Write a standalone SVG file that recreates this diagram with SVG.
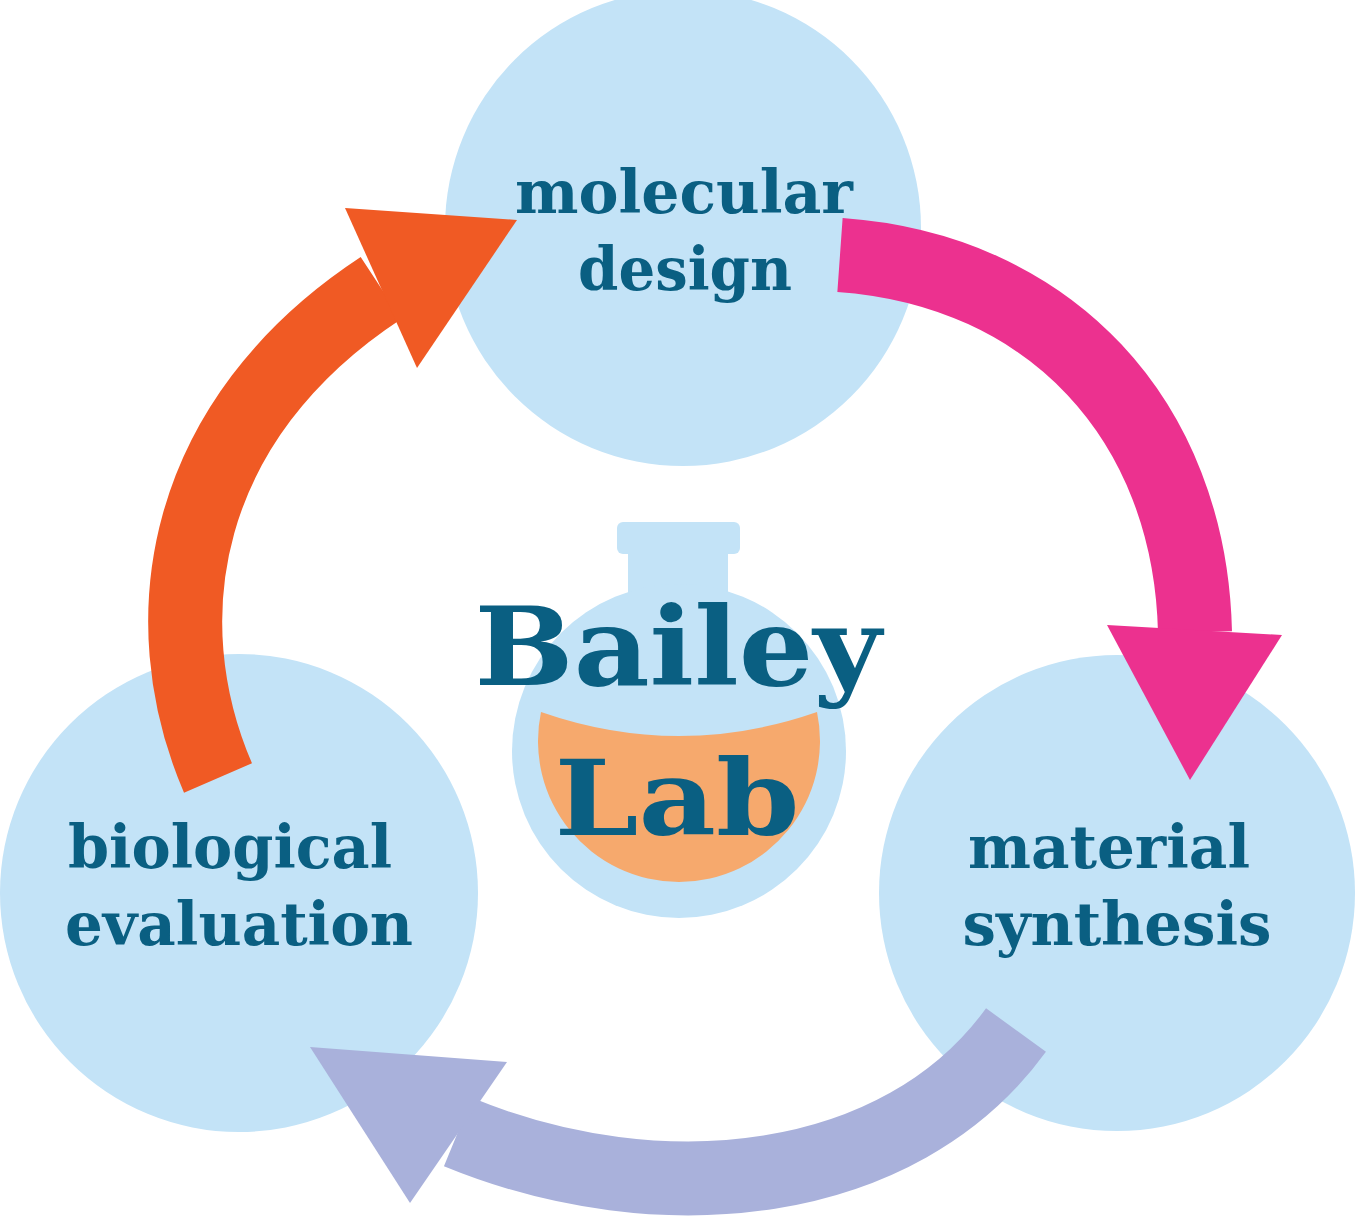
<svg xmlns="http://www.w3.org/2000/svg" width="1356" height="1223" viewBox="0 0 1356 1223">
<style>
.c{fill:#c3e3f7}
.t{font-family:"DejaVu Serif","Liberation Serif",serif;font-weight:bold;fill:#0a5f82;text-anchor:middle}
.s{font-size:60px}
.band{fill:none;stroke-width:74}
</style>
<rect width="1356" height="1223" fill="#fff"/>
<g id="node-molecular"><circle class="c" cx="683" cy="228" r="238"/></g>
<g id="node-biological"><circle class="c" cx="239" cy="893" r="239"/></g>
<g id="node-material"><circle class="c" cx="1117" cy="893" r="238"/></g>
<g id="flask">
<rect class="c" x="617" y="522" width="123" height="32" rx="6"/>
<path class="c" d="M628,540 H728 V600 Q735,640 760,650 L600,650 Q623,640 628,600 Z"/>
<circle class="c" cx="679" cy="751" r="167"/>
<path d="M541,712 Q679,760 817,712 A141,141 0 1,1 541,712 Z" fill="#f6a96d"/>
</g>
<g id="connectors">
<path class="band" stroke="#ec318f" d="M840,255 C1050,270 1190,420 1195,632"/>
<polygon fill="#ec318f" points="1107,625 1282,635 1190,780"/>
<path class="band" stroke="#f05a24" d="M218,778 C150,620 180,420 381,288"/>
<polygon fill="#f05a24" points="345,208 517,220 417,368"/>
<path class="band" stroke="#a9b1db" stroke-width="70" d="M1016,1030 C900,1190 660,1215 458,1132"/>
<polygon fill="#a9b1db" points="310,1047 507,1062 410,1203"/>
</g>
<g id="labels">
<text class="t s" x="684" y="213" textLength="338" lengthAdjust="spacingAndGlyphs">molecular</text>
<text class="t s" x="685" y="290" textLength="214" lengthAdjust="spacingAndGlyphs">design</text>
<text class="t s" x="230" y="868" textLength="324" lengthAdjust="spacingAndGlyphs">biological</text>
<text class="t s" x="239" y="945" textLength="348" lengthAdjust="spacingAndGlyphs">evaluation</text>
<text class="t s" x="1109" y="868" textLength="282" lengthAdjust="spacingAndGlyphs">material</text>
<text class="t s" x="1117" y="945" textLength="309" lengthAdjust="spacingAndGlyphs">synthesis</text>
<text class="t" x="678" y="685" font-size="108" textLength="407" lengthAdjust="spacingAndGlyphs">Bailey</text>
<text class="t" x="677" y="835" font-size="104" textLength="245" lengthAdjust="spacingAndGlyphs">Lab</text>
</g>
</svg>
